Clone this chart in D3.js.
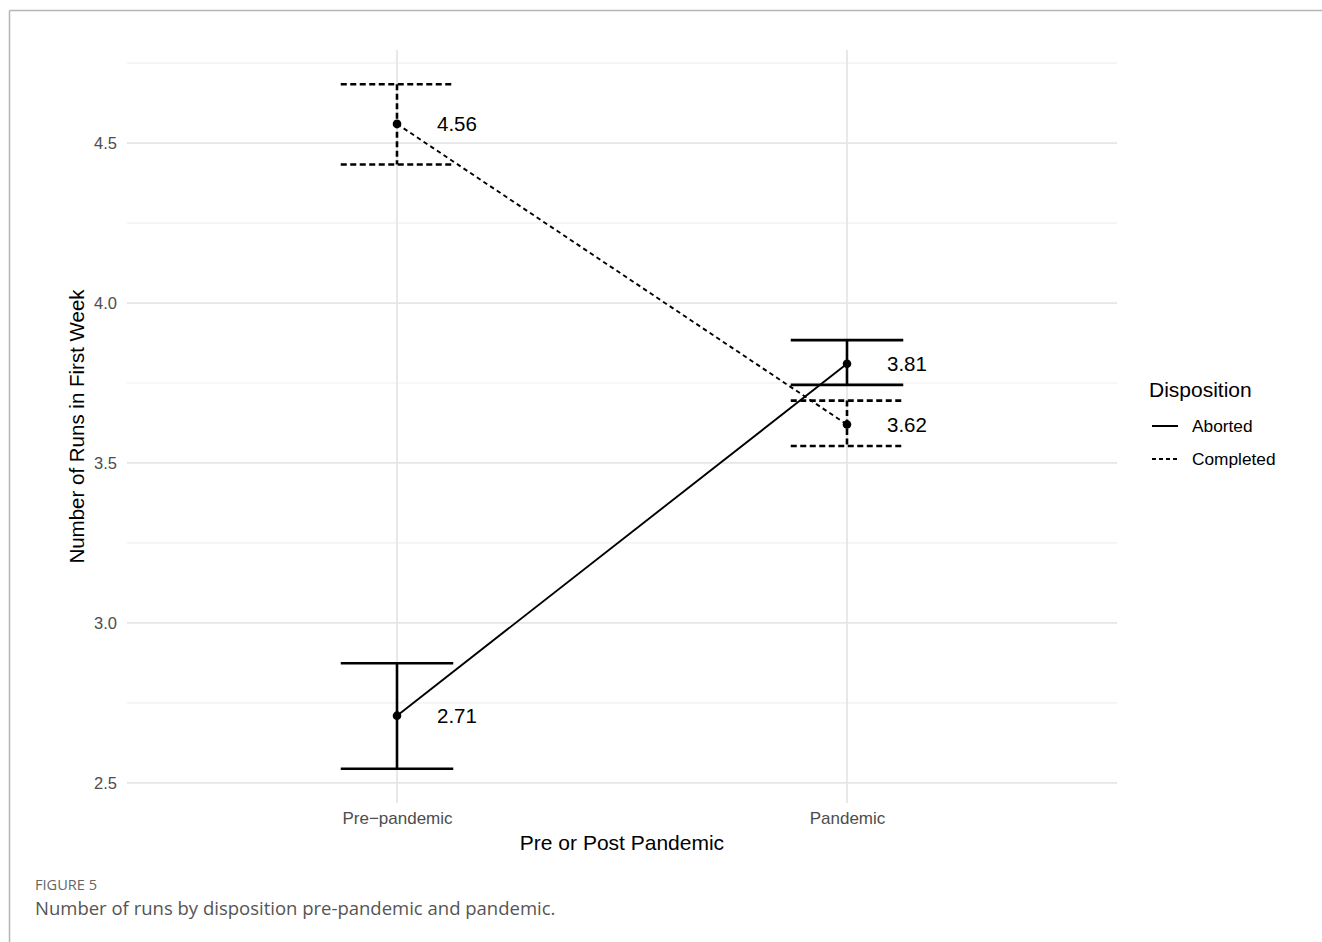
<!DOCTYPE html>
<html>
<head>
<meta charset="utf-8">
<script src="https://cdn.jsdelivr.net/npm/d3@7/dist/d3.min.js"></script>
<style>
  html, body { margin: 0; padding: 0; background: #fff; }
  svg { display: block; }
</style>
</head>
<body>
<svg id="chart" width="1322" height="942"></svg>
<script>
// Periods on the x axis
const periods = ["Pre-pandemic", "Pandemic"];
// Dispositions (one line per group)
const dispositions = ["Aborted", "Completed"];
// Mean number of runs in first week, by period
const abortedMeans = [2.71, 3.81];
const completedMeans = [4.56, 3.62];
// Error bar bounds, by period
const abortedLower = [2.544, 3.744];
const abortedUpper = [2.874, 3.884];
const completedLower = [4.433, 3.553];
const completedUpper = [4.684, 3.695];
// Y axis ticks
const yTicks = [2.5, 3.0, 3.5, 4.0, 4.5];
const yMinorTicks = [2.75, 3.25, 3.75, 4.25, 4.75];

const groups = [
  { name: dispositions[0], means: abortedMeans, lo: abortedLower, hi: abortedUpper },
  { name: dispositions[1], means: completedMeans, lo: completedLower, hi: completedUpper }
];

const svg = d3.select("#chart");
const font = "'Liberation Sans', Arial, sans-serif";

// Page frame (top and left rules)
svg.append("line").attr("x1", 9.5).attr("x2", 1322).attr("y1", 10.5).attr("y2", 10.5)
  .attr("stroke", "#b5b5b5").attr("stroke-width", 1.5);
svg.append("line").attr("x1", 9.5).attr("x2", 9.5).attr("y1", 10.5).attr("y2", 942)
  .attr("stroke", "#b5b5b5").attr("stroke-width", 1.5);

// Panel geometry
const panel = { left: 127, right: 1117, top: 50, bottom: 803 };

const allVals = [].concat(abortedLower, abortedUpper, completedLower, completedUpper);
const lo = d3.min(allVals), hi = d3.max(allVals), pad = (hi - lo) * 0.05;

const y = d3.scaleLinear().domain([lo - pad, hi + pad]).range([panel.bottom, panel.top]);
const x = d3.scalePoint().domain(periods).range([panel.left, panel.right]).padding(0.6);
const band = x.step();

const g = svg.append("g");

// Minor gridlines
g.selectAll(".minor").data(yMinorTicks.filter(t => y(t) >= panel.top && y(t) <= panel.bottom))
  .enter().append("line")
  .attr("x1", panel.left).attr("x2", panel.right)
  .attr("y1", d => y(d)).attr("y2", d => y(d))
  .attr("stroke", "#f0f0f0").attr("stroke-width", 1.2);

// Major gridlines
g.selectAll(".major").data(yTicks).enter().append("line")
  .attr("x1", panel.left).attr("x2", panel.right)
  .attr("y1", d => y(d)).attr("y2", d => y(d))
  .attr("stroke", "#e6e6e6").attr("stroke-width", 1.8);

g.selectAll(".vgrid").data(periods).enter().append("line")
  .attr("x1", d => x(d)).attr("x2", d => x(d))
  .attr("y1", panel.top).attr("y2", panel.bottom)
  .attr("stroke", "#e6e6e6").attr("stroke-width", 1.8);

// Y tick labels
const yAxis = d3.axisLeft(y).tickValues(yTicks).tickFormat(d3.format(".1f")).tickSize(0).tickPadding(10);
const ya = svg.append("g").attr("transform", `translate(${panel.left},0)`).call(yAxis);
ya.select(".domain").remove();
ya.selectAll("text").attr("font-family", font).attr("font-size", 16.5).attr("fill", "#4d4d4d");

// X tick labels
const xAxis = d3.axisBottom(x).tickSize(0).tickPadding(9);
const xa = svg.append("g").attr("transform", `translate(0,${panel.bottom})`).call(xAxis);
xa.select(".domain").remove();
xa.selectAll("text").attr("font-family", font).attr("font-size", 17).attr("fill", "#4d4d4d")
  .text(d => d.replace("-", "\u2212"));

// Axis titles
svg.append("text").attr("x", (panel.left + panel.right) / 2).attr("y", 850)
  .attr("text-anchor", "middle").attr("font-family", font).attr("font-size", 21).attr("fill", "#000")
  .text("Pre or Post Pandemic");
svg.append("text").attr("transform", `translate(84,${(panel.top + panel.bottom) / 2}) rotate(-90)`)
  .attr("text-anchor", "middle").attr("font-family", font).attr("font-size", 20.5).attr("fill", "#000")
  .text("Number of Runs in First Week");

const dashFor = name => name === "Completed";

// Error bars
groups.forEach(grp => {
  const eb = g.append("g");
  const dashed = dashFor(grp.name);
  periods.forEach((p, i) => {
    const cx = x(p), hw = band * 0.125;
    const attrs = s => s.attr("stroke", "#000").attr("stroke-width", 2.6)
      .attr("stroke-dasharray", dashed ? "6,3.5" : null).attr("fill", "none");
    eb.append("line").attr("x1", cx - hw).attr("x2", cx + hw).attr("y1", y(grp.hi[i])).attr("y2", y(grp.hi[i])).call(attrs);
    eb.append("line").attr("x1", cx - hw).attr("x2", cx + hw).attr("y1", y(grp.lo[i])).attr("y2", y(grp.lo[i])).call(attrs);
    eb.append("line").attr("x1", cx).attr("x2", cx).attr("y1", y(grp.hi[i])).attr("y2", y(grp.lo[i])).call(attrs);
  });
});

// Lines connecting means
const line = d3.line().x((d, i) => x(periods[i])).y(d => y(d));
groups.forEach(grp => {
  g.append("path").datum(grp.means).attr("d", line)
    .attr("fill", "none").attr("stroke", "#000").attr("stroke-width", 1.9)
    .attr("stroke-dasharray", dashFor(grp.name) ? "4.5,3.5" : null);
});

// Points and value labels
groups.forEach(grp => {
  grp.means.forEach((v, i) => {
    g.append("circle").attr("cx", x(periods[i])).attr("cy", y(v)).attr("r", 4.3).attr("fill", "#000");
    g.append("text").attr("x", x(periods[i]) + 40).attr("y", y(v)).attr("dy", "0.36em")
      .attr("font-family", font).attr("font-size", 20.5).attr("fill", "#000")
      .text(v.toFixed(2));
  });
});

// Legend
const lg = svg.append("g").attr("transform", "translate(1149,0)");
lg.append("text").attr("x", 0).attr("y", 397).attr("font-family", font).attr("font-size", 21).attr("fill", "#000")
  .text("Disposition");
dispositions.forEach((d, i) => {
  const ly = 426 + i * 33;
  lg.append("line").attr("x1", 3).attr("x2", 29).attr("y1", ly).attr("y2", ly)
    .attr("stroke", "#000").attr("stroke-width", 2)
    .attr("stroke-dasharray", dashFor(d) ? "4,3" : null);
  lg.append("text").attr("x", 43).attr("y", ly).attr("dy", "0.36em")
    .attr("font-family", font).attr("font-size", 17.3).attr("fill", "#000").text(d);
});

// Caption
svg.append("text").attr("x", 35).attr("y", 890).attr("font-family", "'Open Sans', sans-serif")
  .attr("font-size", 14).attr("fill", "#666").attr("textLength", 62).attr("lengthAdjust", "spacingAndGlyphs")
  .text("FIGURE 5");
svg.append("text").attr("x", 35).attr("y", 915).attr("font-family", "'Open Sans', sans-serif")
  .attr("font-size", 18.5).attr("fill", "#555").text("Number of runs by disposition pre-pandemic and pandemic.");
</script>
</body>
</html>
